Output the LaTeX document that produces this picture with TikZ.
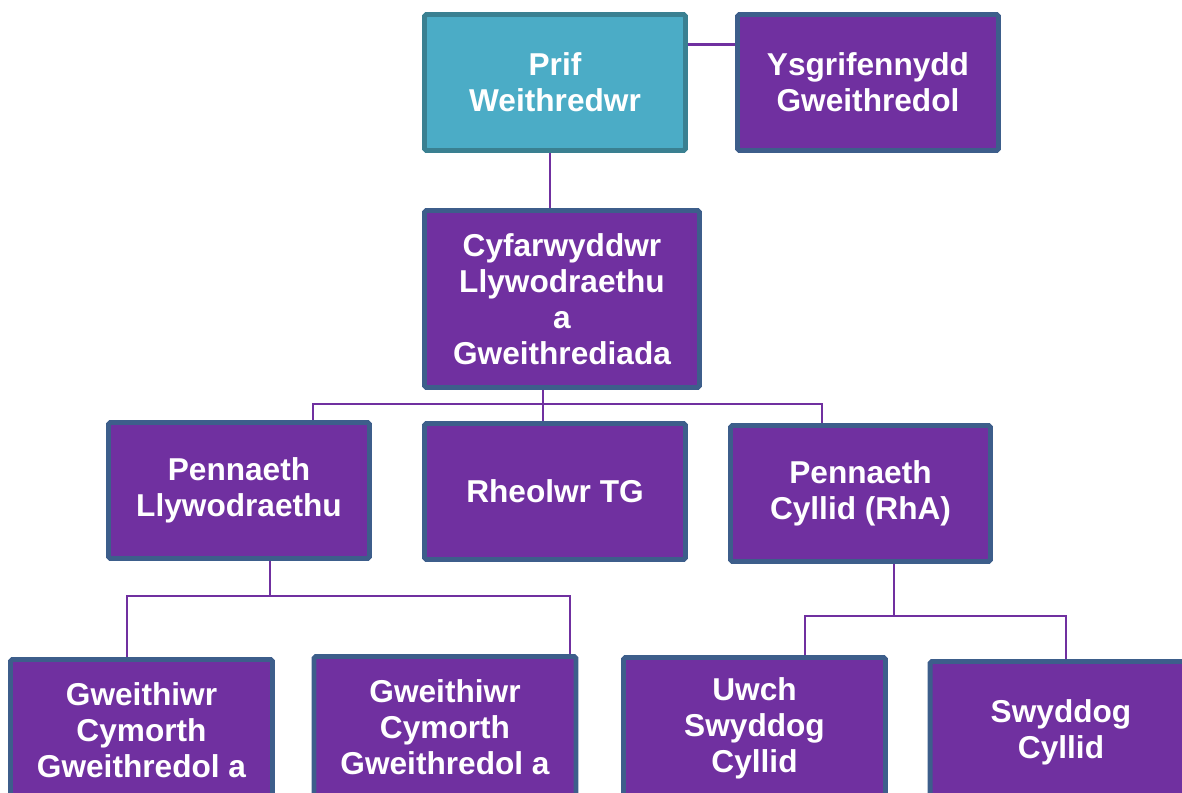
\documentclass[tikz,border=0pt]{standalone}
\usepackage{fontspec}
\setmainfont{Liberation Sans}
\usetikzlibrary{positioning}

\definecolor{rolepurple}{HTML}{7030A0}
\definecolor{roleedge}{HTML}{3D5E8B}
\definecolor{chiefteal}{HTML}{4BACC6}
\definecolor{chiefedge}{HTML}{3A8091}

\begin{document}
\begin{tikzpicture}[
    x=0.02cm, y=-0.02cm,
    role/.style={rectangle, draw=roleedge, fill=rolepurple, line width=2.8pt,
        rounded corners=1pt, minimum width=5.22cm, minimum height=2.72cm,
        text=white, align=center, font=\fontsize{18}{20.4}\selectfont\bfseries},
    chief role/.style={role, draw=chiefedge, fill=chiefteal},
    staff role/.style={role, minimum width=5.24cm, minimum height=2.82cm},
    link/.style={-, line width=1.4pt, rolepurple}
]
\useasboundingbox (0,0) rectangle (1182,793);
\clip (0,0) rectangle (1182,793);

% Top row
\node[chief role] (prif) at (555,82.5) {Prif\\Weithredwr};
\node[role] (ysg) at (868,82.5) {Ysgrifennydd\\Gweithredol};

% Director
\node[role, minimum width=5.5cm, minimum height=3.54cm] (cyf) at (562,299)
    {Cyfarwyddwr\\Llywodraethu\\a\\Gweithrediada};

% Heads
\node[role] (pllyw) at (239,490.5) {Pennaeth\\Llywodraethu};
\node[role] (rtg) at (555,491.5) {Rheolwr TG};
\node[role, minimum width=5.2cm] (pcyll) at (860.5,493.5) {Pennaeth\\Cyllid (RhA)};

% Staff
\node[staff role] (gw1) at (141.5,730) {Gweithiwr\\Cymorth\\Gweithredol a};
\node[staff role] (gw2) at (445,727) {Gweithiwr\\Cymorth\\Gweithredol a};
\node[staff role] (uwch) at (754.5,728) {Uwch\\Swyddog\\Cyllid};
\node[staff role] (swy) at (1061,732) {Swyddog\\Cyllid};

% Junction points
\coordinate (cyfbar) at (543,404);
\coordinate (llywbar) at (270,596);
\coordinate (cyllbar) at (894,616);

% Links
\draw[link] (prif.16) -- (ysg.west |- prif.16);
\draw[link] ([xshift=-0.1cm]prif.south) -- ([xshift=-0.1cm]prif.south |- cyf.north);

\draw[link] (cyf.south -| cyfbar) -- (rtg.north -| cyfbar);
\draw[link] ([xshift=1.48cm]pllyw.north) |- (cyfbar) -| ([xshift=-0.77cm]pcyll.north);

\draw[link] (pllyw.south -| llywbar) -- (llywbar);
\draw[link] ([xshift=-0.29cm]gw1.north) |- (llywbar) -| ([xshift=2.5cm]gw2.north);

\draw[link] (pcyll.south -| cyllbar) -- (cyllbar);
\draw[link] ([xshift=1.01cm]uwch.north) |- (cyllbar) -| ([xshift=0.1cm]swy.north);

\end{tikzpicture}
\end{document}
